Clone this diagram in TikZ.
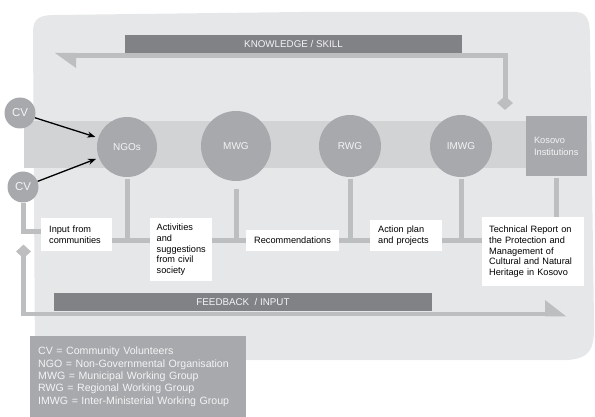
\documentclass[tikz,border=0pt]{standalone}
\usepackage{fontspec}
\setmainfont{Liberation Sans}
\usetikzlibrary{arrows.meta,shapes.geometric}
\definecolor{bgc}{HTML}{E6E7E8}
\definecolor{bandc}{HTML}{D1D3D4}
\definecolor{darkc}{HTML}{808285}
\definecolor{litec}{HTML}{BCBEC0}
\definecolor{midc}{HTML}{A7A9AC}
\definecolor{txtw}{HTML}{F4F4F5}
\begin{document}
\begin{tikzpicture}[x=1pt,y=-1pt,
  conn/.style={draw=litec,line width=5pt},
  bubble/.style={circle,fill=midc,text=txtw,inner sep=0pt,font=\fontsize{10}{12}\selectfont},
  cvnode/.style={circle,fill=midc,text=txtw,minimum size=31pt,inner sep=0pt,font=\fontsize{11.5}{13}\selectfont},
  tbox/.style={fill=white,anchor=north west,align=left,inner xsep=8pt,inner ysep=0pt,font=\fontsize{9.2}{10.6}\selectfont},
  barnode/.style={fill=darkc,text=txtw,minimum height=18pt,inner sep=0pt,font=\fontsize{9.8}{11}\selectfont},
  diam/.style={diamond,fill=litec,inner sep=0pt},
  cvarrow/.style={-{Stealth[length=8pt,width=6pt]},line width=1.3pt,black,shorten >=3pt}
]
\useasboundingbox (0,0) rectangle (595,417);
% background panel
\fill[bgc] (33,32) .. controls (33,18) and (40,15) .. (55,15) -- (300,12) -- (575,12)
  .. controls (587,12) and (590,20) .. (590,36) -- (594,320)
  .. controls (595,350) and (590,358) .. (568,360) -- (35,360) -- cycle;
% band
\fill[bandc] (24,121) rectangle (526,168);

% knowledge / skill
\node[barnode,minimum width=337pt] (knowbar) at (293.5,44) {KNOWLEDGE / SKILL};
\node[diam,minimum width=16pt,minimum height=14pt] (kdiam) at (505,103) {};
\coordinate (kend) at (76,55.5);
\draw[conn] ([yshift=-4pt]kdiam.north) |- (kend);
\fill[litec] (55,53) -- (76,53) -- (76,68) -- cycle;

% feedback / input
\node[barnode,minimum width=378pt] (feedbar) at (243,302) {FEEDBACK\ \ / INPUT};
\node[diam,minimum width=15pt,minimum height=14pt] (fdiam) at (23.5,251.5) {};
\coordinate (fend) at (546,314);
\draw[conn,line width=4.5pt] ([yshift=4pt]fdiam.south) |- (fend);
\fill[litec] (545,300) -- (566,316.25) -- (545,316.25) -- cycle;

% circles
\node[bubble,minimum size=60pt] (ngo) at (127,147) {NGOs};
\node[bubble,minimum size=70pt] (mwg) at (236,146) {MWG};
\node[bubble,minimum size=62pt] (rwg) at (350,146) {RWG};
\node[bubble,minimum size=62pt] (imwg) at (461,146) {IMWG};
\node[fill=midc,text=txtw,minimum width=61pt,minimum height=60pt,inner xsep=8pt,
  text width=45pt,align=left,font=\fontsize{9.3}{12}\selectfont] (kosovo) at (556.5,146) {Kosovo\\Institutions};
\node[cvnode] (cv1) at (20,113) {CV};
\node[cvnode] (cv2) at (23,187) {CV};

% text boxes
\node[tbox,minimum width=71pt,minimum height=33pt,text width=55pt] (input) at (41,218) {Input from\\communities};
\node[tbox,minimum width=62pt,minimum height=63pt,text width=49pt,inner xsep=6.5pt] (activities) at (150,218) {Activities\\and\\suggestions\\from civil\\society};
\node[tbox,minimum width=93pt,minimum height=21pt,text width=77pt] (recs) at (246,230) {Recommendations};
\node[tbox,minimum width=72pt,minimum height=31pt,text width=56pt] (action) at (370,220) {Action plan\\and projects};
\node[tbox,minimum width=102pt,minimum height=69pt,text width=88pt,inner xsep=7pt] (report) at (482,217) {Technical Report on\\the Protection and\\Management of\\Cultural and Natural\\Heritage in Kosovo};

% connectors
\coordinate (ml) at (0,240.5);
\draw[conn] (cv2.south) |- ([yshift=3.5pt]input.west);
\draw[conn] (input.east |- ml) -- (activities.west |- ml);
\draw[conn] (activities.east |- ml) -- (recs.west |- ml);
\draw[conn] (recs.east |- ml) -- (action.west |- ml);
\draw[conn] (action.east |- ml) -- (report.west |- ml);
\draw[conn] ([yshift=-2pt]ngo.south) -- (ngo.south |- ml);
\draw[conn] ([yshift=-8pt]mwg.south) -- (mwg.south |- ml);
\draw[conn] ([yshift=-2pt]rwg.south) -- (rwg.south |- ml);
\draw[conn] ([yshift=-2pt]imwg.south) -- (imwg.south |- ml);
\draw[conn] ([yshift=-2pt]kosovo.south) -- (report.north -| kosovo.south);
\draw[cvarrow] (cv1) -- (ngo);
\draw[cvarrow] (cv2) -- (ngo);

% legend
\node[fill=midc,text=txtw,anchor=north west,minimum width=216pt,minimum height=81pt,
  text width=200pt,inner xsep=8pt,align=left,font=\fontsize{10.6}{12.4}\selectfont] (legend) at (30,336)
  {CV = Community Volunteers\\NGO = Non-Governmental Organisation\\MWG = Municipal Working Group\\RWG = Regional Working Group\\IMWG = Inter-Ministerial Working Group};
\end{tikzpicture}
\end{document}
